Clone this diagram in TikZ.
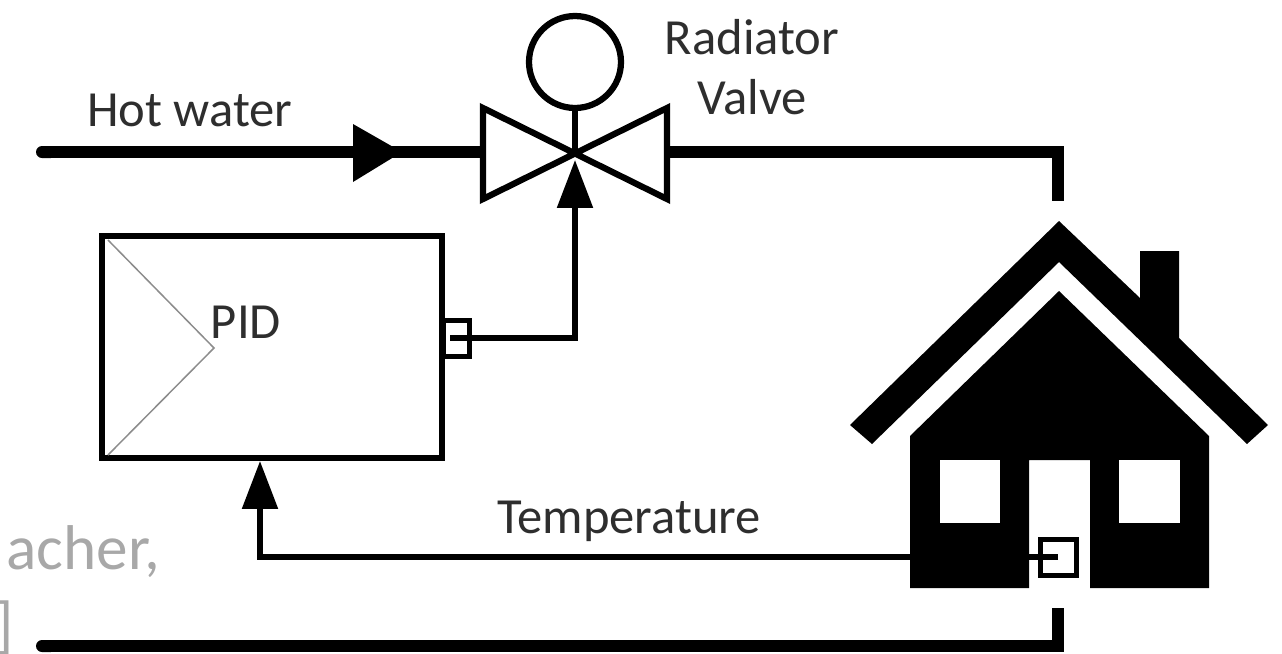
\documentclass[tikz,border=0pt]{standalone}
\usepackage{fontspec}
\setmainfont{Carlito}
\usetikzlibrary{arrows.meta}
\definecolor{labelgrey}{HTML}{2E2E2E}
\definecolor{fadegrey}{HTML}{A8A8A8}
\tikzset{
	pipeline/.style={line width=0.24cm, color=black, line join=miter},
	wireline/.style={line width=0.11cm, color=black, line join=miter},
	valveline/.style={line width=0.125cm, color=black, line join=miter},
	tiparrow/.style={-{Triangle[length=0.96cm, width=0.7cm]}},
	caption/.style={inner sep=0, color=labelgrey, font=\fontsize{28.8}{34.2}\selectfont},
	fadetext/.style={inner sep=0, anchor=base west, color=fadegrey, font=\fontsize{36}{42}\selectfont}
}

\begin{document}
\begin{tikzpicture}[x=0.02cm, y=-0.02cm]
		%%%%% START %%%%%
		\useasboundingbox (0, 0) rectangle (1282, 653);
		
		% leftover slide text
		\node[fadetext] (citeone) at (6, 569) {acher,};
		\node[fadetext] (citetwo) at (-6, 646) {]};
		
		% house
		\fill (1059, 221) -- (1140, 298) -- (1140, 251) -- (1179, 251) -- (1179, 338) -- (1268, 425) -- (1247, 444) -- (1059, 262) -- (872, 444) -- (850, 425) -- cycle;
		\fill (1059, 291) -- (1209, 436) -- (1209, 588) -- (1090, 588) -- (1090, 460) -- (1029, 460) -- (1029, 588) -- (910, 588) -- (910, 436) -- cycle;
		\fill[white] (940, 460) rectangle (1000, 523);
		\fill[white] (1119, 460) rectangle (1180, 523);
		
		% named points
		\coordinate (hotstart) at (36, 152);
		\coordinate (valvemid) at (575, 152);
		\coordinate (valveleft) at (483, 152);
		\coordinate (valveright) at (667, 152);
		\coordinate (housein) at (1058, 201);
		\coordinate (houseout) at (1058, 608);
		\coordinate (coldend) at (36, 646);
		\coordinate (coldbend) at (1058, 646);
		\coordinate (valvetip) at (575, 160);
		\coordinate (pidwire) at (450, 338);
		
		% controller
		\node[draw, line width=0.11cm, minimum width=6.8cm, minimum height=4.44cm, inner sep=0] (pidbox) at (272, 347) {};
		\draw[line width=0.03cm, color=black!45] (108, 240) -- (214, 348) -- (108, 455);
		\node[caption] (pidlabel) at (246, 322) {PID};
		\node[draw, line width=0.1cm, minimum width=0.52cm, minimum height=0.72cm, inner sep=0] (pidport) at (456, 338) {};
		\coordinate (pidin) at (260, 461);
		
		% valve
		\draw[valveline] (483, 108) -- (483, 199) -- (667, 108) -- (667, 199) -- cycle;
		\node[draw, circle, line width=0.125cm, minimum size=1.84cm, inner sep=0] (actuator) at (575, 62) {};
		\draw[valveline] (actuator.south) -- (valvemid);
		
		% pipes
		\draw[pipeline, {Round Cap[]}-] (hotstart) -- (valveleft);
		\fill (353, 124) -- (402, 152) -- (353, 182) -- cycle;
		\draw[pipeline] (valveright) -| (housein);
		\draw[pipeline, {Round Cap[]}-] (coldend) -- (coldbend) -- (houseout);
		
		% signals
		\draw[wireline, tiparrow] (pidwire) -| (valvetip);
		\node[draw, line width=0.1cm, minimum size=0.72cm, inner sep=0] (sensor) at (1058, 557) {};
		\draw[wireline, tiparrow] (sensor.center) -| (pidin);
		
		% labels
		\node[caption] (hotlabel) at (190, 110) {Hot water};
		\node[caption, align=center] (valvelabel) at (752, 67) {Radiator\\Valve};
		\node[caption] (templabel) at (629, 521) {Temperature};
		%%%%% END %%%%%
	\end{tikzpicture}
\end{document}
